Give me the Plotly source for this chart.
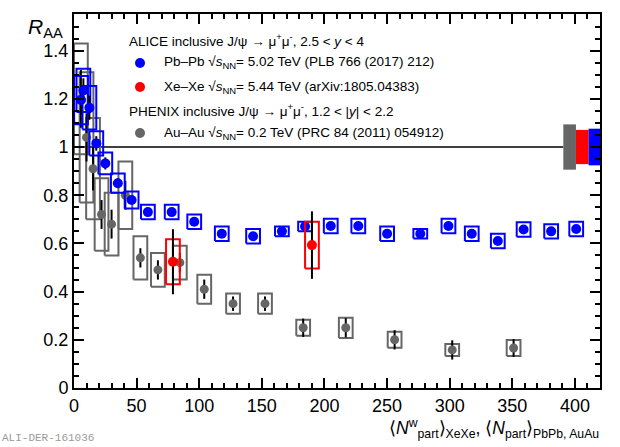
import plotly.graph_objects as go

# ---------------- data ----------------
# ALICE Pb-Pb 5.02 TeV
pb_x = [5.6, 7.5, 12.3, 17.8, 25, 35, 46, 59, 78, 96, 118, 143, 166, 184.5, 205, 227, 250, 276.5, 299, 317.6, 338.4, 359, 381, 401]
pb_y = [1.195, 1.235, 1.163, 1.015, 0.932, 0.85, 0.78, 0.73, 0.73, 0.69, 0.64, 0.63, 0.65, 0.67, 0.672, 0.672, 0.64, 0.64, 0.672, 0.64, 0.61, 0.658, 0.65, 0.66]
pb_stat = [0.06, 0.05, 0.05, 0.03, 0.025, 0.02, 0.015, 0.01, 0.01, 0.01, 0.01, 0.01, 0.01, 0.01, 0.01, 0.01, 0.01, 0.01, 0.01, 0.01, 0.01, 0.01, 0.01, 0.01]
pb_syst = [0.10, 0.09, 0.09, 0.05, 0.045, 0.04, 0.035, 0.03, 0.03, 0.03, 0.03, 0.03, 0.02, 0.02, 0.03, 0.03, 0.03, 0.02, 0.03, 0.03, 0.03, 0.03, 0.03, 0.03]

# ALICE Xe-Xe 5.44 TeV
xe_x = [79, 190]
xe_y = [0.524, 0.593]
xe_stat = [0.135, 0.14]
xe_syst = [0.093, 0.097]

# PHENIX Au-Au 0.2 TeV
au_x = [5.5, 10, 15.2, 22, 30, 41, 53, 67, 84.5, 104, 127, 152.5, 183, 217, 256, 302, 351]
au_y = [1.20, 1.04, 0.91, 0.72, 0.68, 0.80, 0.54, 0.49, 0.52, 0.41, 0.35, 0.35, 0.25, 0.25, 0.20, 0.158, 0.166]
au_stat = [0.12, 0.10, 0.09, 0.06, 0.06, 0.06, 0.04, 0.04, 0.04, 0.04, 0.03, 0.03, 0.038, 0.04, 0.04, 0.04, 0.037]
au_syst = [0.23, 0.27, 0.21, 0.15, 0.13, 0.14, 0.09, 0.07, 0.07, 0.06, 0.042, 0.042, 0.033, 0.042, 0.033, 0.025, 0.033]

# global uncertainties at R_AA = 1
glob_names = ["Au-Au", "Xe-Xe", "Pb-Pb"]
glob_x0 = [390.7, 400.8, 410.9]
glob_x1 = [400.8, 410.9, 420]
glob_unc = [0.094, 0.071, 0.076]
glob_col = ["#666666", "#ff0000", "#0000ff"]

BOX_HW = 5.5
X_MAX = 420
Y_MAX = 1.552

BLUE = "#0000ff"
RED = "#ff0000"
GRAY = "#666666"


def box_path(xs, ys, errs, hw):
    px, py = [], []
    for x, y, e in zip(xs, ys, errs):
        px += [x - hw, x + hw, x + hw, x - hw, x - hw, None]
        py += [y - e, y - e, y + e, y + e, y - e, None]
    return px, py


fig = go.Figure()

# reference line at 1
fig.add_trace(go.Scatter(x=[0, glob_x0[0]], y=[1, 1], mode="lines",
                         line=dict(color="black", width=1.5), hoverinfo="skip"))

# global boxes
for x0, x1, u, c in zip(glob_x0, glob_x1, glob_unc, glob_col):
    fig.add_trace(go.Scatter(x=[x0, x1, x1, x0, x0], y=[1 - u, 1 - u, 1 + u, 1 + u, 1 - u],
                             mode="lines", fill="toself", fillcolor=c,
                             line=dict(color=c, width=0), hoverinfo="skip"))

# PHENIX
bx, by = box_path(au_x, au_y, au_syst, BOX_HW)
fig.add_trace(go.Scatter(x=bx, y=by, mode="lines", line=dict(color=GRAY, width=2), hoverinfo="skip"))
fig.add_trace(go.Scatter(x=au_x, y=au_y, mode="markers",
                         marker=dict(color=GRAY, size=9),
                         error_y=dict(type="data", array=au_stat, color="black", thickness=2, width=0)))

# ALICE Pb-Pb
bx, by = box_path(pb_x, pb_y, pb_syst, BOX_HW)
fig.add_trace(go.Scatter(x=bx, y=by, mode="lines", line=dict(color=BLUE, width=2), hoverinfo="skip"))
fig.add_trace(go.Scatter(x=pb_x, y=pb_y, mode="markers",
                         marker=dict(color=BLUE, size=10),
                         error_y=dict(type="data", array=pb_stat, color="black", thickness=2, width=0)))

# ALICE Xe-Xe
bx, by = box_path(xe_x, xe_y, xe_syst, BOX_HW)
fig.add_trace(go.Scatter(x=bx, y=by, mode="lines", line=dict(color=RED, width=2), hoverinfo="skip"))
fig.add_trace(go.Scatter(x=xe_x, y=xe_y, mode="markers",
                         marker=dict(color=RED, size=10),
                         error_y=dict(type="data", array=xe_stat, color="black", thickness=2, width=0)))

# ---------------- layout ----------------
L, R, T, B = 74, 20, 14, 59
W, H = 620, 447
PW, PH = W - L - R, H - T - B


def px2paper(px, py):
    return (px - L) / PW, (H - B - py) / PH


FONT = "Liberation Sans, Arial, sans-serif"

annotations = []


def add_text(text, px, py, size=13.5, anchor="left", color="black", family=FONT):
    x, y = px2paper(px, py)
    annotations.append(dict(text=text, x=x, y=y, xref="paper", yref="paper",
                            xanchor=anchor, yanchor="middle", showarrow=False,
                            font=dict(size=size, color=color, family=family)))


add_text("ALICE inclusive J/ψ → μ<sup>+</sup>μ<sup>-</sup>, 2.5 &lt; <i>y</i> &lt; 4", 127, 40)
add_text("Pb–Pb √<i>s</i><sub>NN</sub>= 5.02 TeV (PLB 766 (2017) 212)", 162, 63)
add_text("Xe–Xe √<i>s</i><sub>NN</sub>= 5.44 TeV (arXiv:1805.04383)", 162, 87)
add_text("PHENIX inclusive J/ψ → μ<sup>+</sup>μ<sup>-</sup>, 1.2 &lt; |<i>y</i>| &lt; 2.2", 127, 110)
add_text("Au–Au √<i>s</i><sub>NN</sub>= 0.2 TeV (PRC 84 (2011) 054912)", 162, 133)
add_text("<i>R</i><sub>AA</sub>", 26, 28, size=21)
add_text("⟨<i>N</i><sup>w</sup><sub>part</sub>⟩<sub>XeXe</sub>, ⟨<i>N</i><sub>part</sub>⟩<sub>PbPb, AuAu</sub>",
         601, 428, size=17.5, anchor="right")
add_text("ALI-DER-161036", 0, 438, size=11, color="#9a9a9a", family="Liberation Mono, DejaVu Sans Mono, monospace")

shapes = []
for py, c in [(63, BLUE), (87, RED), (133, GRAY)]:
    cx, cy = px2paper(140, py)
    r = 5
    shapes.append(dict(type="circle", xref="paper", yref="paper",
                       x0=cx - r / PW, x1=cx + r / PW, y0=cy - r / PH, y1=cy + r / PH,
                       fillcolor=c, line=dict(width=0)))

axis_common = dict(showline=True, linecolor="black", linewidth=2, mirror="ticks",
                   ticks="inside", tickcolor="black", tickwidth=1.5, showgrid=False,
                   zeroline=False, tickfont=dict(size=18, family=FONT, color="black"))

fig.update_layout(
    width=W, height=H,
    margin=dict(l=L, r=R, t=T, b=B),
    paper_bgcolor="white", plot_bgcolor="white",
    showlegend=False,
    annotations=annotations,
    shapes=shapes,
    xaxis=dict(range=[0, X_MAX], dtick=50, tick0=0, ticklen=10,
               minor=dict(dtick=10, ticks="inside", ticklen=5, tickcolor="black", tickwidth=1.5),
               **axis_common),
    yaxis=dict(range=[0, Y_MAX], dtick=0.2, tick0=0, ticklen=10,
               minor=dict(dtick=0.05, ticks="inside", ticklen=5, tickcolor="black", tickwidth=1.5),
               **axis_common),
)

fig.write_html("out.html", config={"displayModeBar": False},
               post_script="document.body.style.margin='0';document.body.style.padding='0';document.body.style.overflow='hidden';")
